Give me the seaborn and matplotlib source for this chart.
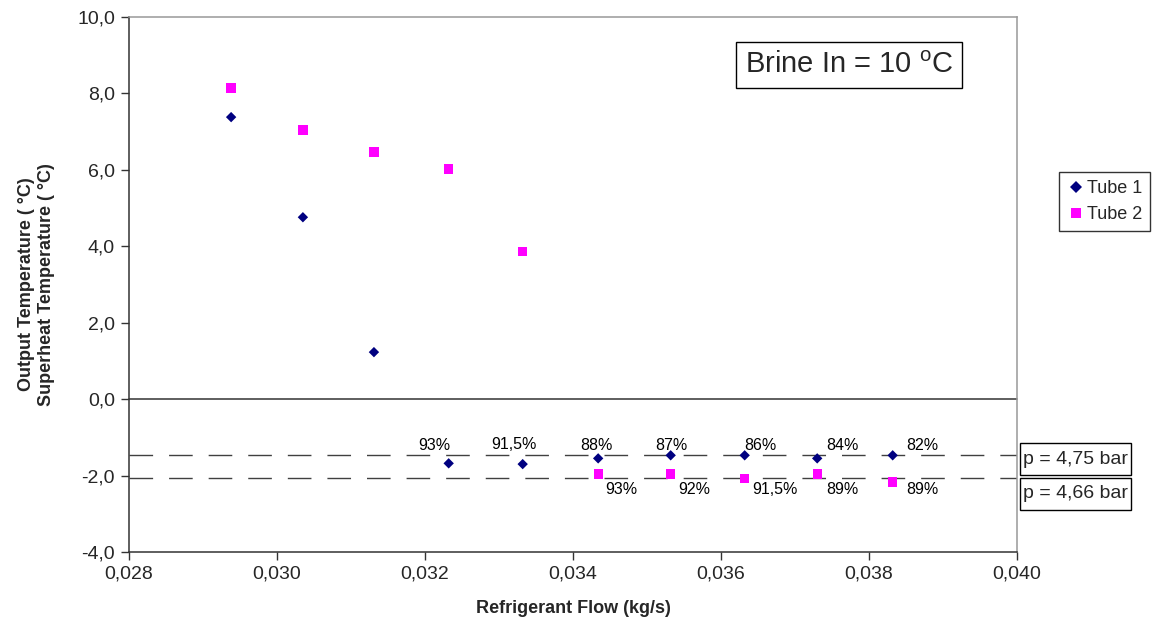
import matplotlib
matplotlib.use("Agg")
import matplotlib.pyplot as plt
import seaborn as sns
import pandas as pd
from matplotlib.patches import Rectangle
from matplotlib.ticker import FuncFormatter, MultipleLocator

# ---- data ----
flow = [0.02938, 0.03035, 0.03131, 0.03232, 0.03332, 0.03434, 0.03532, 0.03632, 0.03730, 0.03832]
tube1 = [7.38, 4.76, 1.23, -1.68, -1.70, -1.55, -1.47, -1.47, -1.55, -1.47]
tube2_flow = [0.02938, 0.03035, 0.03131, 0.03232, 0.03332, 0.03434, 0.03532, 0.03632, 0.03730, 0.03832]
tube2 = [8.14, 7.04, 6.47, 6.02, 3.87, -1.96, -1.96, -2.07, -1.96, -2.17]
series_names = ["Tube 1", "Tube 2"]
tube1_labels = ["93%", "91,5%", "88%", "87%", "86%", "84%", "82%"]
tube2_labels = ["93%", "92%", "91,5%", "89%", "89%"]
pressure_levels = [-1.47, -2.07]
pressure_labels = ["p = 4,75 bar", "p = 4,66 bar"]

df = pd.DataFrame({
    "flow": flow + tube2_flow,
    "temp": tube1 + tube2,
    "series": [series_names[0]] * len(flow) + [series_names[1]] * len(tube2_flow),
})

sns.set_style("white")
plt.rcParams["font.family"] = ["Liberation Sans", "DejaVu Sans"]

W, H = 1153, 629
fig = plt.figure(figsize=(W / 100, H / 100), dpi=100)
ax = fig.add_axes([129 / W, 1 - 552 / H, (1017 - 129) / W, (552 - 17) / H])

# dashed pressure lines
for lvl in pressure_levels:
    ax.axhline(lvl, color="#404040", lw=1.0, dashes=(17, 11.5), zorder=1)
ax.axhline(0, color="#333333", lw=1.1, zorder=1, clip_on=False)

sns.scatterplot(data=df, x="flow", y="temp", hue="series", style="series",
                palette={"Tube 1": "#000080", "Tube 2": "#FF00FF"},
                markers={"Tube 1": "D", "Tube 2": "s"},
                size="series", sizes={"Tube 1": 28, "Tube 2": 45},
                linewidth=0, ax=ax, zorder=3)

# data labels
t1_off = [(-10, 13), (-6, 14), (-1.5, 9.5), (0.7, 7), (11.5, 7), (18, 9.5), (21, 7)]
for lab, x, y, off in zip(tube1_labels, flow[3:], tube1[3:], t1_off):
    ax.annotate(lab, (x, y), xytext=off, textcoords="offset points",
                ha="center", va="center", fontsize=11.5, color="black")
t2_off = [(17, -11), (17, -11), (21.5, -8), (18, -11), (21.5, -5)]
for lab, x, y, off in zip(tube2_labels, tube2_flow[5:], tube2[5:], t2_off):
    ax.annotate(lab, (x, y), xytext=off, textcoords="offset points",
                ha="center", va="center", fontsize=11.5, color="black")

ax.set_xlim(0.028, 0.040)
ax.set_ylim(-4.0, 10.0)
ax.xaxis.set_major_locator(MultipleLocator(0.002))
ax.yaxis.set_major_locator(MultipleLocator(2.0))
ax.xaxis.set_major_formatter(FuncFormatter(lambda v, p: f"{v:.3f}".replace(".", ",")))
ax.yaxis.set_major_formatter(FuncFormatter(lambda v, p: f"{v:.1f}".replace(".", ",")))
ax.tick_params(axis="both", direction="out", length=6, width=1, color="#333333",
               labelsize=14, left=True, bottom=True, pad=4)

for side in ["left", "bottom"]:
    ax.spines[side].set_color("#333333")
    ax.spines[side].set_linewidth(1.1)
for side in ["top", "right"]:
    ax.spines[side].set_color("#999999")
    ax.spines[side].set_linewidth(1.1)

ax.set_xlabel("Refrigerant Flow (kg/s)", fontsize=13, fontweight="bold", labelpad=12)
ax.set_ylabel("Output Temperature ( °C)\nSuperheat Temperature ( °C)", fontsize=13,
              fontweight="bold", labelpad=16, linespacing=1.25)

# legend
sns.move_legend(ax, loc="upper left", bbox_to_anchor=(1059 / W, 1 - 172 / H),
                bbox_transform=fig.transFigure, title=None, frameon=True,
                fontsize=13, handletextpad=0.1, borderpad=0.45, labelspacing=0.5,
                handlelength=1.0, fancybox=False, edgecolor="black", borderaxespad=0)
leg = ax.get_legend()
leg.get_frame().set_linewidth(1.0)
for h in leg.legend_handles:
    try:
        h.set_markersize(6.5)
    except Exception:
        pass

# brine box
fig.text(849 / W, 1 - 65 / H, "Brine In = 10 $^\\mathregular{o}$C", fontsize=21,
         ha="center", va="center",
         bbox=dict(boxstyle="square,pad=0.3", fc="white", ec="black", lw=1.0))

# pressure boxes
for lab, (y0, y1) in zip(pressure_labels, [(443, 475), (478, 510)]):
    fig.patches.append(Rectangle((1020 / W, 1 - y1 / H), 111 / W, (y1 - y0) / H,
                                 transform=fig.transFigure, fc="white", ec="black",
                                 lw=1.0, figure=fig))
    fig.text(1075.5 / W, 1 - (y0 + y1) / 2 / H, lab, fontsize=14, ha="center",
             va="center")

fig.savefig("out.png", dpi=100)
